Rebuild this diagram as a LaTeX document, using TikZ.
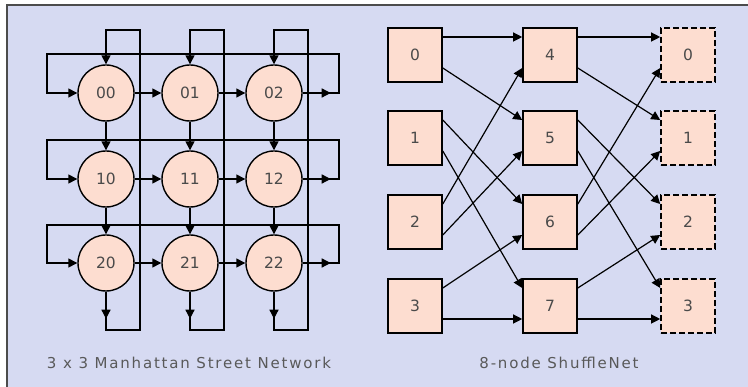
\documentclass[tikz,border=0pt]{standalone}
\usepackage{fontspec}
\setmainfont{DejaVu Sans}
\usetikzlibrary{arrows.meta, positioning, calc}

\definecolor{panelbg}{HTML}{D6DAF2}
\definecolor{nodefill}{HTML}{FDDDD0}
\definecolor{labelgray}{HTML}{4A4A4A}

\begin{document}
\begin{tikzpicture}[x=1pt, y=-1pt, >={Triangle[length=9pt, width=9pt]},
  street/.style={circle, draw, line width=1.4pt, fill=nodefill, minimum size=56pt,
                 inner sep=0pt, font=\fontsize{15.5}{17}\selectfont, text=labelgray},
  shuffle/.style={rectangle, draw, line width=1.6pt, fill=nodefill, minimum size=54pt,
                  inner sep=0pt, font=\fontsize{15.5}{17}\selectfont, text=labelgray},
  ghost/.style={shuffle, dashed, dash pattern=on 6pt off 3pt},
  link/.style={->, line width=1.5pt},
  cross/.style={->, line width=1.2pt},
  caption/.style={font=\fontsize{15}{17}\selectfont\addfontfeatures{LetterSpace=12},
                  text=black!65}]
  \useasboundingbox (0,0) rectangle (748,387);

  % Panel with shadow edge on top and left
  \fill[panelbg] (7,5) rectangle (748,387);
  \draw[black!70, line width=1.5pt] (7,387) -- (7,5) -- (748,5);

  % Manhattan street network nodes
  \node[street] (n00) at (106,93) {00};
  \node[street] (n01) at (190,93) {01};
  \node[street] (n02) at (274,93) {02};
  \node[street] (n10) at (106,179) {10};
  \node[street] (n11) at (190,179) {11};
  \node[street] (n12) at (274,179) {12};
  \node[street] (n20) at (106,263) {20};
  \node[street] (n21) at (190,263) {21};
  \node[street] (n22) at (274,263) {22};

  % Row wrap-around (eastbound streets)
  \draw[link] (n02) -| (339,54) -| (47,93) -- (n00);
  \draw[link] (n12) -| (339,140) -| (47,179) -- (n10);
  \draw[link] (n22) -| (339,225) -| (47,263) -- (n20);
  \draw[link] (n02.east) -- ++(28,0);
  \draw[link] (n12.east) -- ++(28,0);
  \draw[link] (n22.east) -- ++(28,0);

  % Column wrap-around (southbound avenues)
  \draw[link] (n20) |- (140,330) |- (106,30) -- (n00);
  \draw[link] (n21) |- (224,330) |- (190,30) -- (n01);
  \draw[link] (n22) |- (308,330) |- (274,30) -- (n02);
  \draw[link] (n20.south) -- ++(0,27);
  \draw[link] (n21.south) -- ++(0,27);
  \draw[link] (n22.south) -- ++(0,27);

  % Links between neighbours
  \draw[link] (n00) -- (n01);
  \draw[link] (n01) -- (n02);
  \draw[link] (n10) -- (n11);
  \draw[link] (n11) -- (n12);
  \draw[link] (n20) -- (n21);
  \draw[link] (n21) -- (n22);
  \draw[link] (n00) -- (n10);
  \draw[link] (n10) -- (n20);
  \draw[link] (n01) -- (n11);
  \draw[link] (n11) -- (n21);
  \draw[link] (n02) -- (n12);
  \draw[link] (n12) -- (n22);

  \node[caption] (mcap) at (189,363) {3 x 3 Manhattan Street Network};

  % ShuffleNet: first stage, second stage, repeated first stage
  \node[shuffle] (s0) at (415,55) {0};
  \node[shuffle] (s1) at (415,138) {1};
  \node[shuffle] (s2) at (415,222) {2};
  \node[shuffle] (s3) at (415,306) {3};
  \node[shuffle] (s4) at (550,55) {4};
  \node[shuffle] (s5) at (550,138) {5};
  \node[shuffle] (s6) at (550,222) {6};
  \node[shuffle] (s7) at (550,306) {7};
  \node[ghost] (r0) at (688,55) {0};
  \node[ghost] (r1) at (688,138) {1};
  \node[ghost] (r2) at (688,222) {2};
  \node[ghost] (r3) at (688,306) {3};

  % Perfect shuffle, stage 1 to stage 2
  \draw[cross] ([yshift=18pt]s0.east) -- ([yshift=18pt]s4.west);
  \draw[cross] ([yshift=-13pt]s0.east) -- ([yshift=18pt]s5.west);
  \draw[cross] ([yshift=18pt]s1.east) -- ([yshift=18pt]s6.west);
  \draw[cross] ([yshift=-13pt]s1.east) -- ([yshift=18pt]s7.west);
  \draw[cross] ([yshift=18pt]s2.east) -- ([yshift=-13pt]s4.west);
  \draw[cross] ([yshift=-13pt]s2.east) -- ([yshift=-13pt]s5.west);
  \draw[cross] ([yshift=18pt]s3.east) -- ([yshift=-13pt]s6.west);
  \draw[cross] ([yshift=-13pt]s3.east) -- ([yshift=-13pt]s7.west);

  % Perfect shuffle, stage 2 back to stage 1
  \draw[cross] ([yshift=18pt]s4.east) -- ([yshift=18pt]r0.west);
  \draw[cross] ([yshift=-13pt]s4.east) -- ([yshift=18pt]r1.west);
  \draw[cross] ([yshift=18pt]s5.east) -- ([yshift=18pt]r2.west);
  \draw[cross] ([yshift=-13pt]s5.east) -- ([yshift=18pt]r3.west);
  \draw[cross] ([yshift=18pt]s6.east) -- ([yshift=-13pt]r0.west);
  \draw[cross] ([yshift=-13pt]s6.east) -- ([yshift=-13pt]r1.west);
  \draw[cross] ([yshift=18pt]s7.east) -- ([yshift=-13pt]r2.west);
  \draw[cross] ([yshift=-13pt]s7.east) -- ([yshift=-13pt]r3.west);

  \node[caption] (scap) at (559,363) {8-node ShuffleNet};
\end{tikzpicture}
\end{document}
